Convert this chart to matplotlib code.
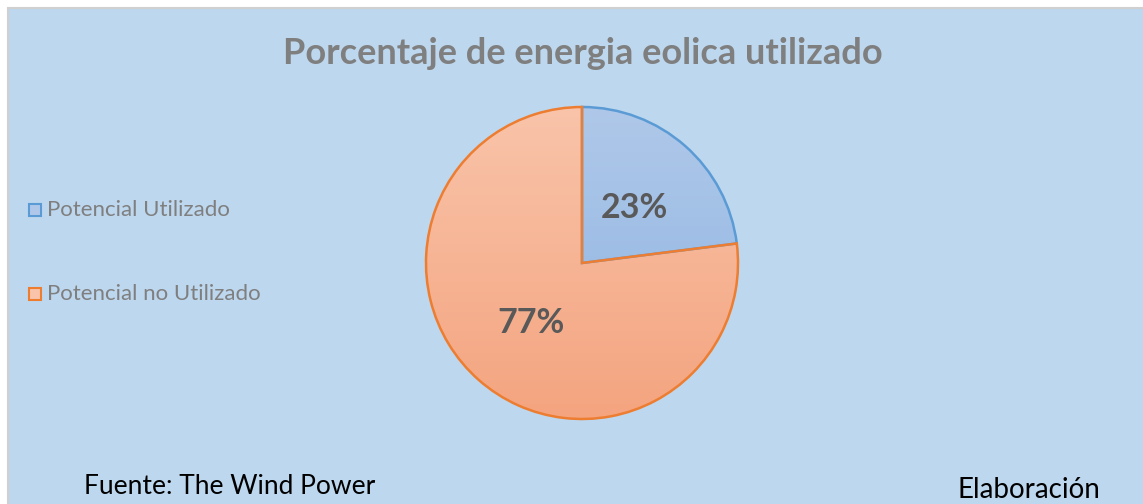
import numpy as np
import matplotlib.pyplot as plt
from matplotlib.colors import LinearSegmentedColormap
from matplotlib.patches import Rectangle

# datos
labels = ['Potencial Utilizado', 'Potencial no Utilizado']
values = [23, 77]
pct_labels = ['23%', '77%']
edge_colors = ['#5B9BD5', '#ED7D31']
grad_top = ['#AFC8E9', '#F9C4AA']
grad_bottom = ['#8DB3E2', '#F4A47F']

W, H = 1143, 504
fig = plt.figure(figsize=(W / 100, H / 100), dpi=100)
fig.patch.set_facecolor('white')
ax = fig.add_axes([0, 0, 1, 1])

# fondo azul con borde gris
ax.add_patch(Rectangle((8, -2), W, H - 8 + 2, facecolor='#BDD7EE',
                       edgecolor='#D0D0D0', linewidth=1.5, zorder=0))

cx, cy, r = 582, H - 263, 156
wedges, _ = ax.pie(values, center=(cx, cy), radius=r, startangle=90,
                   counterclock=False, frame=True,
                   wedgeprops=dict(linewidth=1.8))

grad = np.linspace(0, 1, 256).reshape(-1, 1)
for w, ec, c0, c1 in zip(wedges, edge_colors, grad_top, grad_bottom):
    w.set_facecolor('none')
    w.set_edgecolor(ec)
    w.set_zorder(3)
    cmap = LinearSegmentedColormap.from_list('g', [c0, c1])
    im = ax.imshow(grad, cmap=cmap, extent=(cx - r, cx + r, cy - r, cy + r),
                   origin='upper', aspect='auto', zorder=2)
    im.set_clip_path(w)

ax.set_aspect('auto')
ax.set_xlim(0, W)
ax.set_ylim(0, H)
ax.axis('off')

font = 'Lato'
ax.text(583, H - 53, 'Porcentaje de energia eolica utilizado', ha='center', va='center',
        fontsize=26, fontweight='bold', color='#7F7F7F', family=font)

ax.text(634, H - 208, pct_labels[0], ha='center', va='center', fontsize=24.5,
        fontweight='bold', color='#595959', family=font, zorder=5)
ax.text(531, H - 323, pct_labels[1], ha='center', va='center', fontsize=24.5,
        fontweight='bold', color='#595959', family=font, zorder=5)

# leyenda
for i, (lab, ec, c0) in enumerate(zip(labels, edge_colors, grad_top)):
    y = H - (210 + i * 84)
    ax.add_patch(Rectangle((29, y - 6), 12, 12, facecolor=c0, edgecolor=ec,
                           linewidth=1.5, zorder=4))
    ax.text(47, y, lab, ha='left', va='center', fontsize=16, color='#7F7F7F', family=font)

# pie de figura
ax.text(84, H - 487, 'Fuente: The Wind Power', ha='left', va='center', fontsize=19,
        color='black', family=font)
ax.text(957, H - 490, 'Elaboración', ha='left', va='center', fontsize=20,
        color='black', family=font)

fig.savefig('out.png', dpi=100, facecolor=fig.get_facecolor())
